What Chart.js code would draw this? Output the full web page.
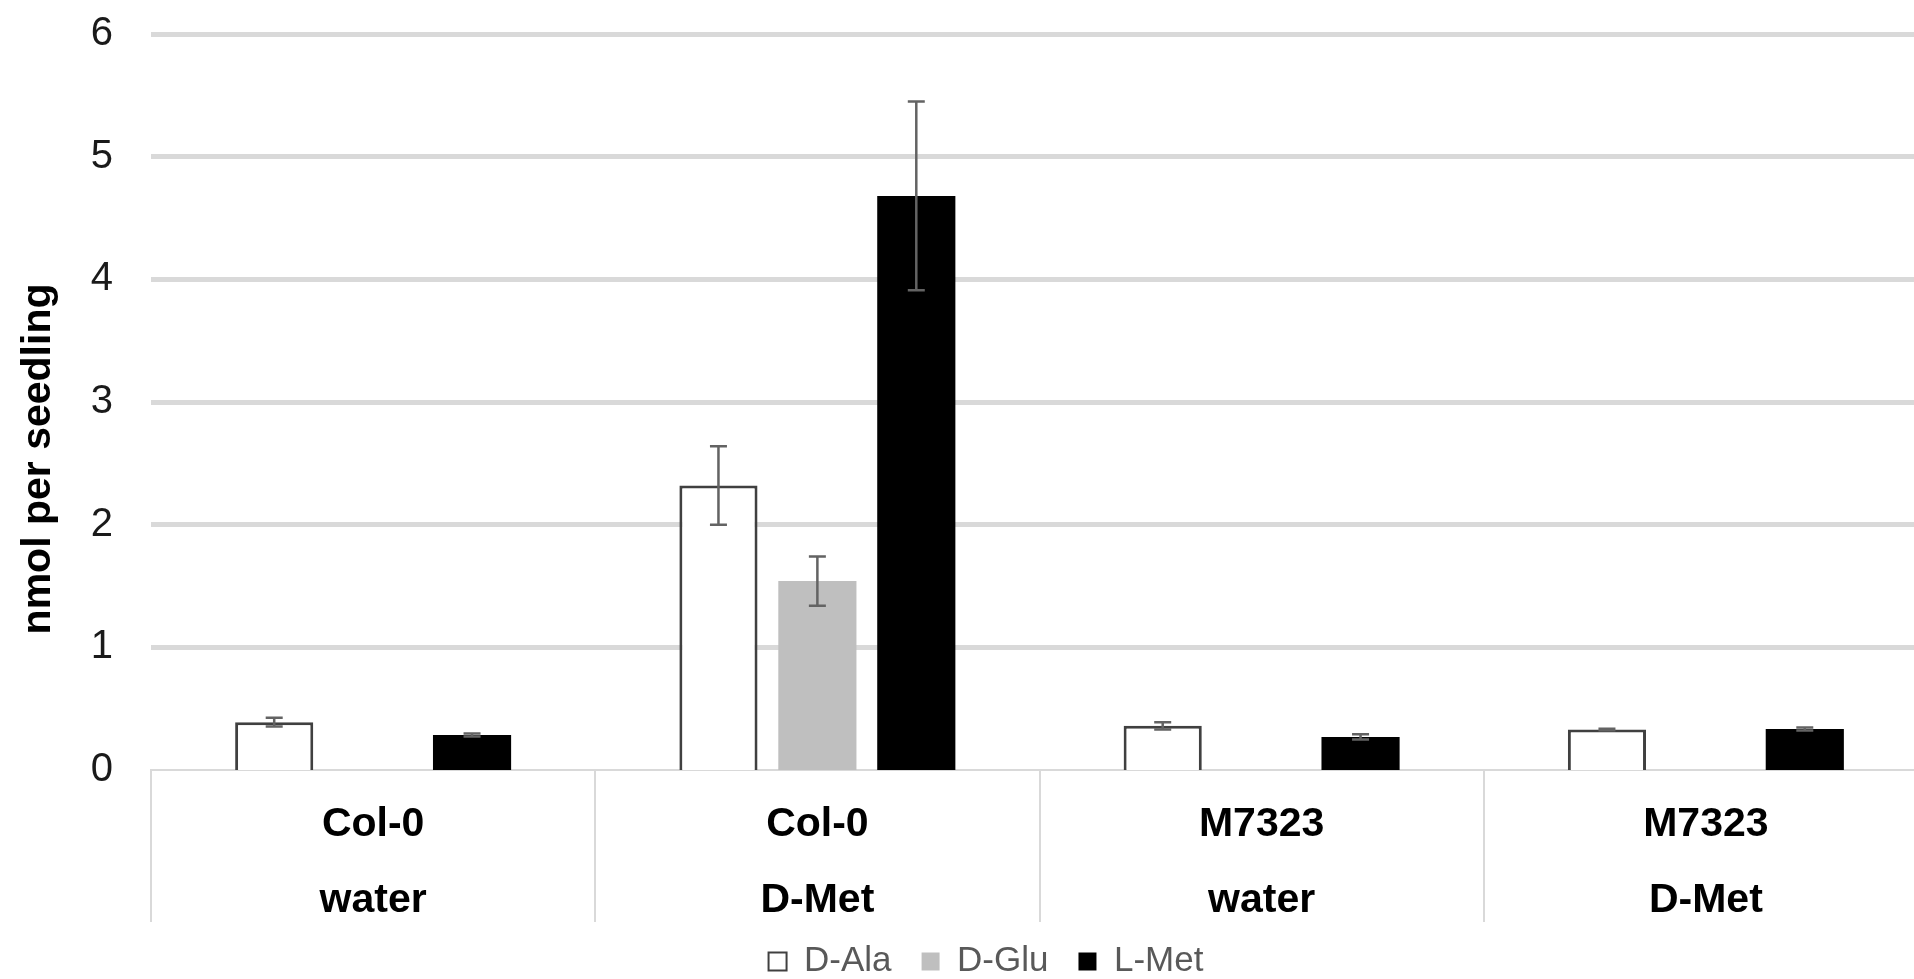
<!DOCTYPE html>
<html>
<head>
<meta charset="utf-8">
<title>nmol per seedling</title>
<script src="https://cdn.jsdelivr.net/npm/chart.js@4/dist/chart.umd.min.js"></script>
<style>
  html, body { margin: 0; padding: 0; background: #ffffff; overflow: hidden; }
  #wrap { position: relative; width: 1972px; height: 979px; }
</style>
</head>
<body>
<div id="wrap"><canvas id="chart"></canvas></div>
<script>
// Genotype / treatment groups (two label lines each)
const categories = [
  ['Col-0', 'water'],
  ['Col-0', 'D-Met'],
  ['M7323', 'water'],
  ['M7323', 'D-Met']
];

// Mean amino-acid content, nmol per seedling
const dAla = [0.39, 2.32, 0.36, 0.33];
const dGlu = [null, 1.54, null, null];
const lMet = [0.285, 4.68, 0.27, 0.335];

// Error (± value) for each mean
const dAlaErr = [0.035, 0.32, 0.03, 0.006];
const dGluErr = [null, 0.2, null, null];
const lMetErr = [0.012, 0.77, 0.022, 0.012];

const yTicks = [0, 1, 2, 3, 4, 5, 6];

const FONT = "'Liberation Sans', Arial, Helvetica, sans-serif";
const GRID = '#d9d9d9';

// Draws vertical error bars with caps from each dataset's "errors" array
const errorBars = {
  id: 'errorBars',
  afterDatasetsDraw(chart) {
    const ctx = chart.ctx;
    const y = chart.scales.y;
    ctx.save();
    ctx.strokeStyle = '#636363';
    ctx.lineWidth = 2.5;
    chart.data.datasets.forEach((ds, di) => {
      const meta = chart.getDatasetMeta(di);
      meta.data.forEach((bar, i) => {
        const v = ds.data[i];
        const e = ds.errors ? ds.errors[i] : null;
        if (v == null || e == null) return;
        const top = y.getPixelForValue(v + e);
        const bot = y.getPixelForValue(v - e);
        const half = 8.5;
        ctx.beginPath();
        ctx.moveTo(bar.x, top); ctx.lineTo(bar.x, bot);
        ctx.moveTo(bar.x - half, top); ctx.lineTo(bar.x + half, top);
        ctx.moveTo(bar.x - half, bot); ctx.lineTo(bar.x + half, bot);
        ctx.stroke();
      });
    });
    ctx.restore();
  }
};

new Chart(document.getElementById('chart'), {
  type: 'bar',
  data: {
    labels: categories,
    datasets: [
      { label: 'D-Ala', data: dAla, errors: dAlaErr, backgroundColor: '#ffffff', borderColor: '#404040', borderWidth: 3 },
      { label: 'D-Glu', data: dGlu, errors: dGluErr, backgroundColor: '#bfbfbf', borderWidth: 0 },
      { label: 'L-Met', data: lMet, errors: lMetErr, backgroundColor: '#000000', borderWidth: 0 }
    ]
  },
  options: {
    responsive: true,
    maintainAspectRatio: false,
    animation: false,
    events: [],
    categoryPercentage: 0.668,
    barPercentage: 0.79,
    layout: { padding: { top: 34, left: 0, right: 0, bottom: -10 } },
    plugins: {
      tooltip: { enabled: false },
      legend: {
        position: 'bottom',
        labels: {
          boxWidth: 18,
          boxHeight: 18,
          padding: 30,
          color: '#595959',
          font: { family: FONT, size: 35 },
          generateLabels(chart) {
            return chart.data.datasets.map((ds, i) => ({
              text: ds.label,
              fillStyle: ds.backgroundColor,
              strokeStyle: i === 0 ? '#404040' : ds.backgroundColor,
              lineWidth: i === 0 ? 2 : 0,
              fontColor: '#595959',
              datasetIndex: i
            }));
          }
        }
      }
    },
    scales: {
      x: {
        offset: true,
        grid: {
          offset: true,
          drawOnChartArea: false,
          drawTicks: true,
          tickLength: 152,
          color: GRID,
          tickColor: GRID,
          lineWidth: 2
        },
        border: { display: true, color: GRID, width: 2 },
        ticks: {
          padding: -136,
          color: '#000000',
          maxRotation: 0,
          autoSkip: false,
          font: { family: FONT, size: 41, weight: 'bold', lineHeight: 1.87 }
        },
        afterFit(scale) {
          scale.height = 144;
          scale.paddingLeft = 0;
          scale.paddingRight = 0;
        }
      },
      y: {
        min: 0,
        max: 6,
        afterBuildTicks(scale) {
          scale.ticks = yTicks.map(v => ({ value: v }));
        },
        grid: {
          drawTicks: false,
          color: GRID,
          lineWidth: (c) => (c.tick && c.tick.value === 0 ? 0 : 5)
        },
        border: { display: false },
        ticks: {
          padding: 38,
          color: '#1a1a1a',
          font: { family: FONT, size: 40 }
        },
        title: {
          display: true,
          text: 'nmol per seedling' + '\u00a0'.repeat(10),
          color: '#000000',
          font: { family: FONT, size: 41, weight: 'bold' },
          padding: { top: 14, bottom: 0 }
        },
        afterFit(scale) {
          scale.width = 151;
          scale.paddingTop = 0;
          scale.paddingBottom = 0;
        }
      },
      yRight: {
        position: 'right',
        min: 0,
        max: 6,
        grid: { drawOnChartArea: false, drawTicks: false },
        border: { display: false },
        ticks: { display: false },
        afterFit(scale) {
          scale.width = 44;
          scale.paddingTop = 0;
          scale.paddingBottom = 0;
        }
      }
    }
  },
  plugins: [errorBars]
});
</script>
</body>
</html>
